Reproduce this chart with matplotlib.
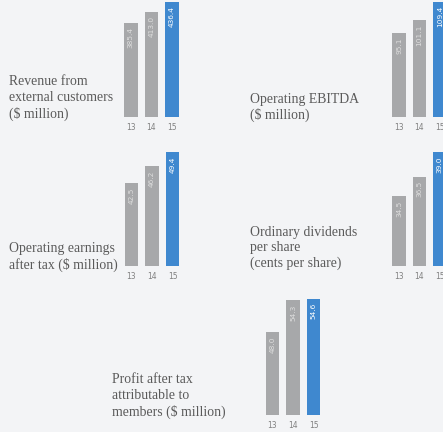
import matplotlib
matplotlib.use("Agg")
import matplotlib.pyplot as plt

years = ["13", "14", "15"]
revenue = [385.4, 413.0, 436.4]
ebitda = [95.1, 101.1, 109.4]
op_earnings = [42.5, 46.2, 49.4]
dividends = [34.5, 36.5, 39.0]
profit = [48.0, 54.3, 54.6]

titles = [
    "Revenue from\nexternal customers\n($ million)",
    "Operating EBITDA\n($ million)",
    "Operating earnings\nafter tax ($ million)",
    "Ordinary dividends\nper share\n(cents per share)",
    "Profit after tax\nattributable to\nmembers ($ million)",
]

BG = "#f3f4f6"
GREY = "#a7a8aa"
BLUE = "#3f88cf"
TEXT = "#5a5a5a"

W, H = 443, 432
fig = plt.figure(figsize=(W / 100, H / 100), dpi=100, facecolor=BG)

# (left px, width px, bottom px, top px, y lower limit)
panels = [
    (revenue, 120.5, 62, 117, 2, 156),
    (ebitda, 389, 61, 117, 2, 56.4),
    (op_earnings, 121, 62, 266, 152, 24.1),
    (dividends, 389, 61, 266, 152, 27.4),
    (profit, 262, 62, 415, 299, 31.4),
]
# text anchor (left px, middle px)
text_pos = [(9, 98), (250, 107.5), (9, 257), (250, 248), (112, 396)]

for (vals, lx, wx, by, ty, lo), title, (tx, tmid) in zip(panels, titles, text_pos):
    ax = fig.add_axes([lx / W, 1 - by / H, wx / W, (by - ty) / H])
    ax.set_facecolor("none")
    colors = [GREY, GREY, BLUE]
    ax.bar(range(3), vals, width=0.66, color=colors, bottom=0)
    ax.set_ylim(lo, vals[-1])
    ax.set_xlim(-0.5, 2.5)
    for i, v in enumerate(vals):
        ax.annotate(f"{v:.1f}", (i, v), xytext=(0, -3), textcoords="offset points",
                    rotation=90, ha="center", va="top", fontsize=5.3,
                    color="white" if i == 2 else "#dedede")
    ax.set_xticks(range(3))
    ax.set_xticklabels(years, fontsize=5.5, color="#808080")
    ax.tick_params(axis="x", length=0, pad=4)
    ax.set_yticks([])
    for s in ax.spines.values():
        s.set_visible(False)
    fig.text(tx / W, 1 - tmid / H, title, ha="left", va="center",
             family="Liberation Serif", fontsize=9.9, color=TEXT, linespacing=1.25)

fig.savefig("out.png", dpi=100, facecolor=BG)
